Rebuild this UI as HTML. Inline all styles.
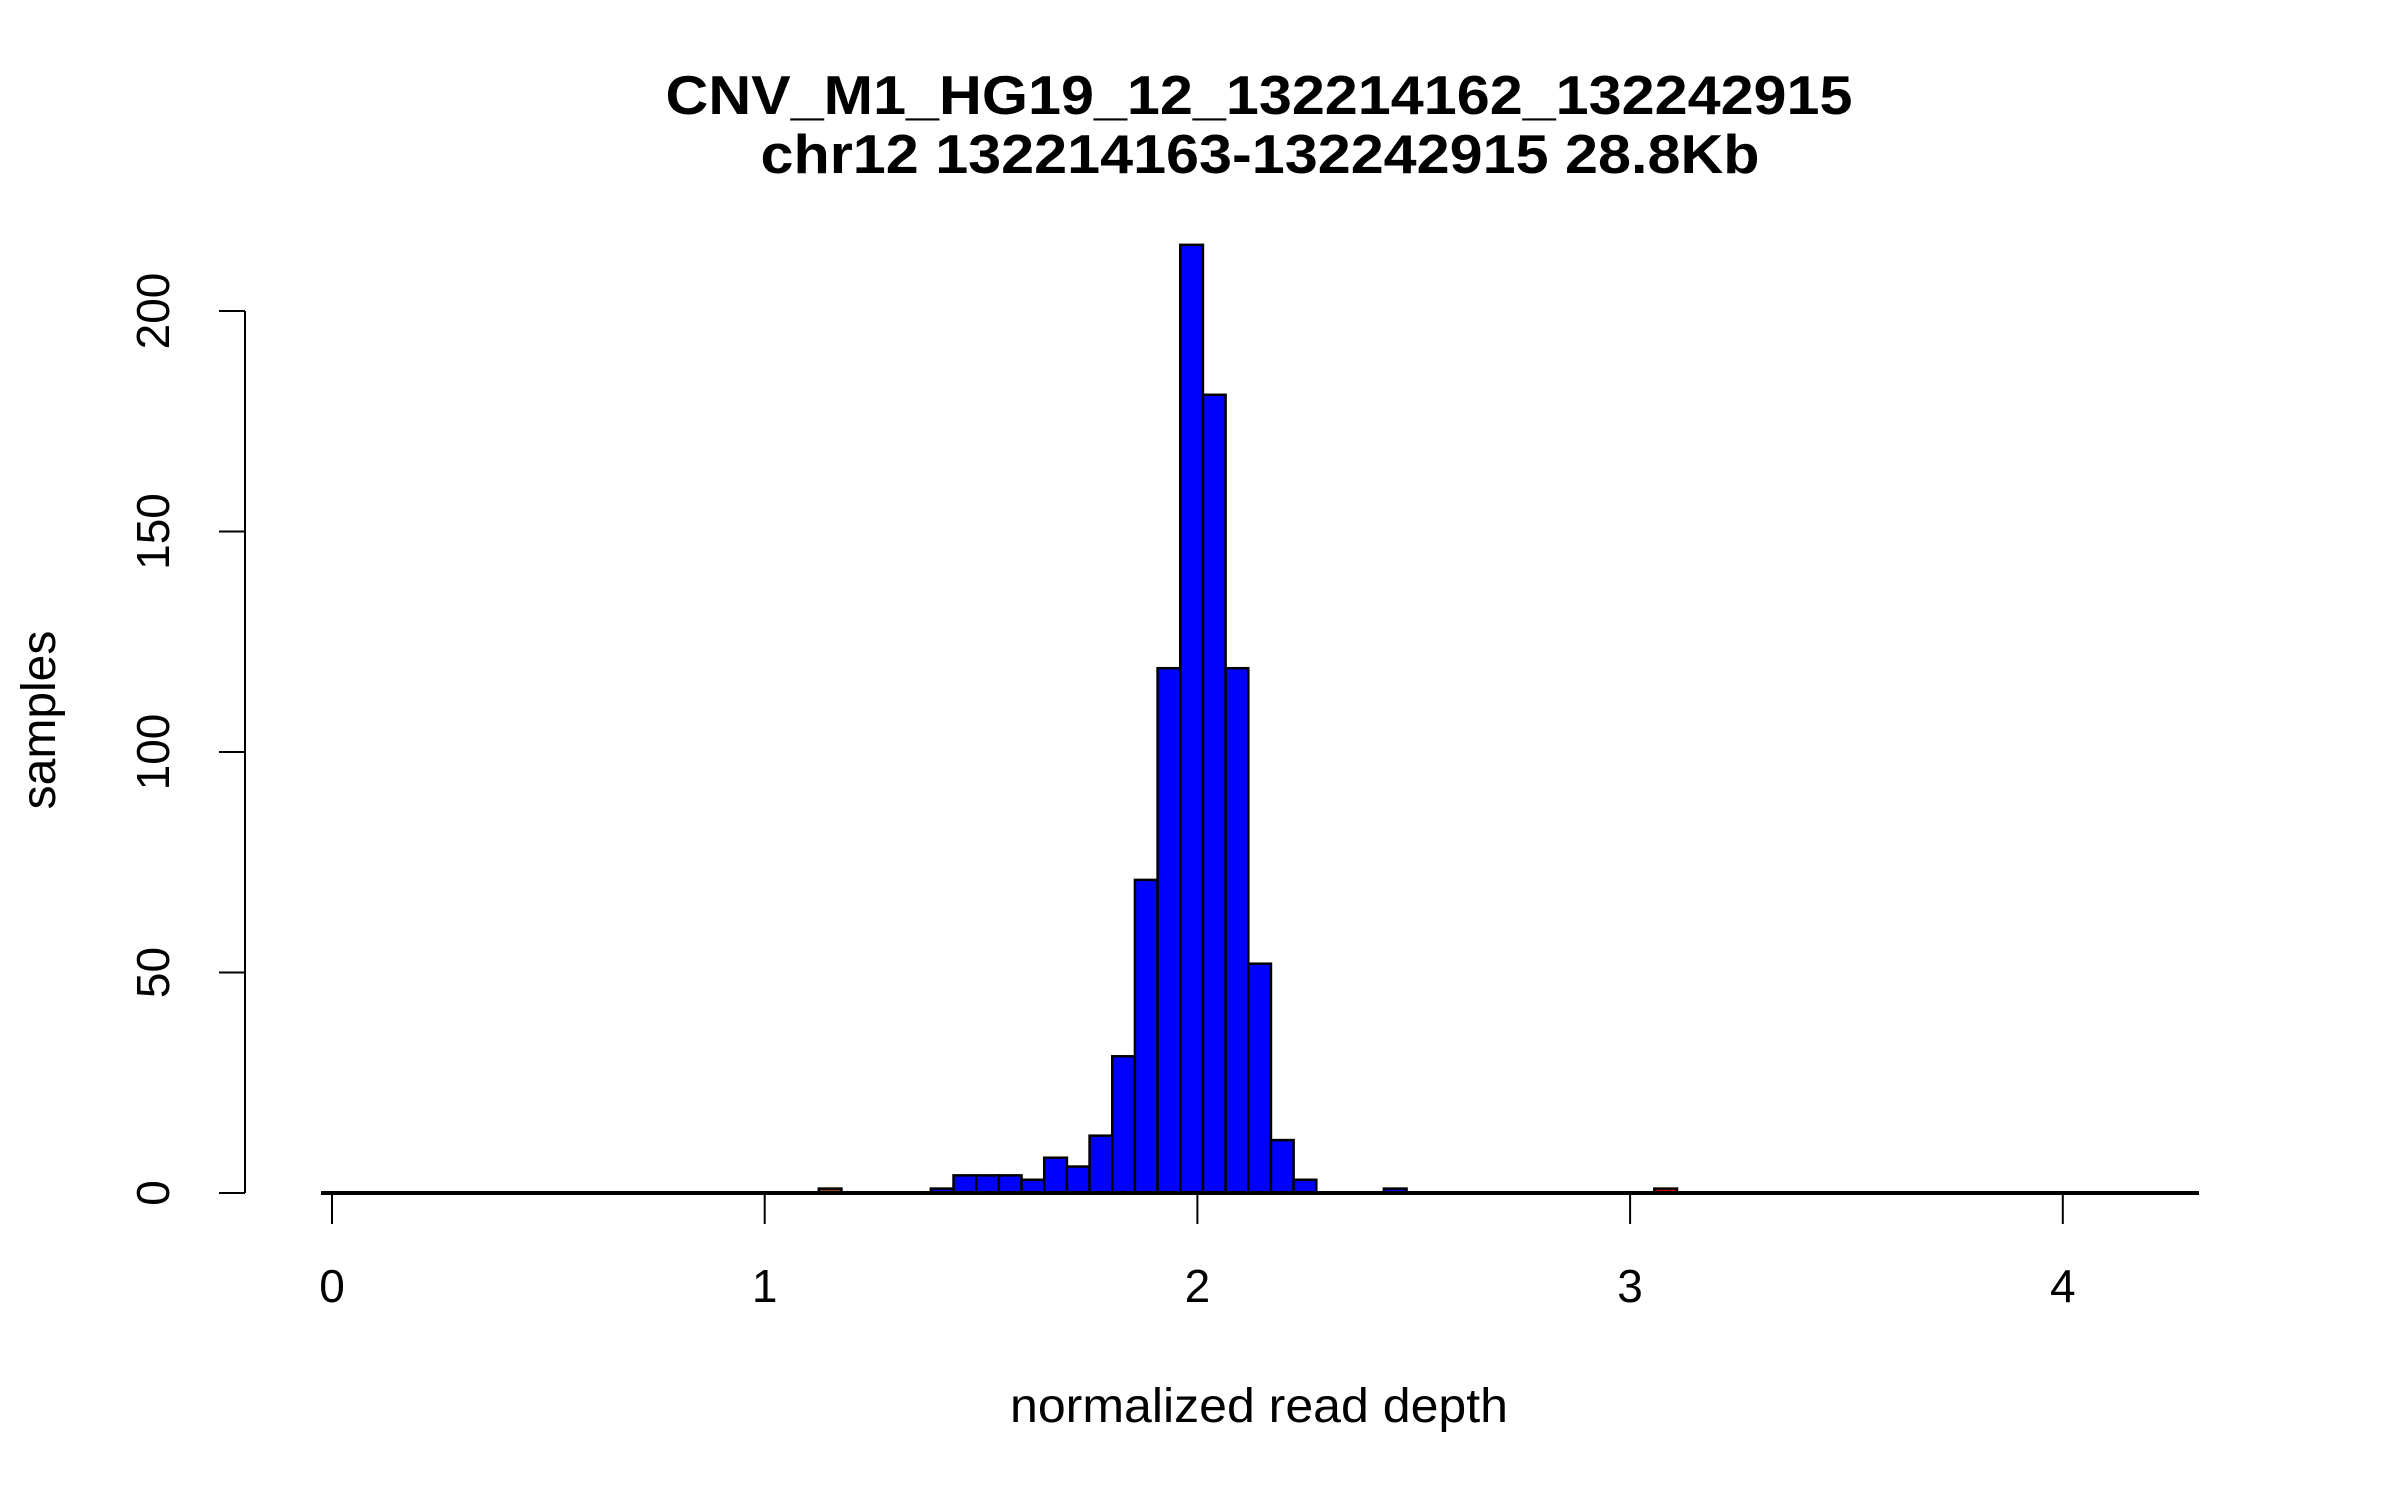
<!DOCTYPE html>
<html><head><meta charset="utf-8"><style>
html,body{margin:0;padding:0;background:#fff;}
svg{display:block;font-family:"Liberation Sans",sans-serif;}
</style></head><body>
<svg id="chart" width="2400" height="1500" viewBox="0 0 2400 1500" xmlns="http://www.w3.org/2000/svg">
<rect x="0" y="0" width="2400" height="1500" fill="#fff"/>
<text x="1259" y="114" font-size="55" font-weight="bold" text-anchor="middle" textLength="1187" lengthAdjust="spacingAndGlyphs">CNV_M1_HG19_12_132214162_132242915</text>
<text x="1260" y="173" font-size="55" font-weight="bold" text-anchor="middle" textLength="999" lengthAdjust="spacingAndGlyphs">chr12 132214163-132242915 28.8Kb</text>
<text x="1259" y="1422" font-size="48" text-anchor="middle" textLength="498" lengthAdjust="spacingAndGlyphs">normalized read depth</text>
<text x="0" y="0" font-size="48" text-anchor="middle" transform="translate(55,720) rotate(-90)">samples</text>
<g id="bars"></g>
<g id="axes"></g>
</svg>
<script>
const mainStart = 1.384;
const binWidth = 0.0524;
const mainCounts = [1,4,4,4,3,8,6,13,31,71,119,215,181,119,52,12,3];
const extraStarts = [1.125, 2.431, 3.056];
const extraCounts = [1, 1, 1];
const extraColors = ['#8b4513', '#0000ff', '#cc0000'];
const xTicks = [0,1,2,3,4];
const yTicks = [0,50,100,150,200];

const NS = 'http://www.w3.org/2000/svg';
function xs(v){ return 332 + v*432.7; }
function ys(v){ return 1193 - v*4.41; }
const bars = document.getElementById('bars');
const axes = document.getElementById('axes');
function mk(tag, attrs, parent){
  const e = document.createElementNS(NS, tag);
  for (const k in attrs) e.setAttribute(k, attrs[k]);
  parent.appendChild(e);
  return e;
}
mainCounts.forEach((c,i)=>{
  const x0 = mainStart + i*binWidth;
  const r = mk('rect',{x:xs(x0), y:ys(c), width:xs(x0+binWidth)-xs(x0), height:ys(0)-ys(c), fill:'#0000ff', stroke:'#000', 'stroke-width':2.5}, bars);
  
  
});
extraStarts.forEach((s,i)=>{
  const c = extraCounts[i];
  const r = mk('rect',{x:xs(s), y:ys(c), width:xs(s+binWidth)-xs(s), height:ys(0)-ys(c), fill:extraColors[i], stroke:'#000', 'stroke-width':2.5}, bars);
  
  
});
const bl = mk('line',{x1:321, x2:2199, y1:ys(0), y2:ys(0), stroke:'#000', 'stroke-width':4}, axes);


xTicks.forEach(t=>{
  const l = mk('line',{x1:xs(t), x2:xs(t), y1:1195, y2:1224, stroke:'#000', 'stroke-width':2}, axes);
  
  
  const tx = mk('text',{x:xs(t), y:1302, 'font-size':46, 'text-anchor':'middle'}, axes);
  tx.textContent = String(t);
  
  
});
const ya = mk('line',{x1:245, x2:245, y1:ys(yTicks[0]), y2:ys(yTicks[yTicks.length-1]), stroke:'#000', 'stroke-width':2}, axes);


yTicks.forEach(t=>{
  const l = mk('line',{x1:219, x2:245, y1:ys(t), y2:ys(t), stroke:'#000', 'stroke-width':2}, axes);
  
  
  const tx = mk('text',{x:0, y:0, 'font-size':46, 'text-anchor':'middle', transform:'translate(169,'+ys(t)+') rotate(-90)'}, axes);
  tx.textContent = String(t);
  
  
});
</script>
</body></html>
